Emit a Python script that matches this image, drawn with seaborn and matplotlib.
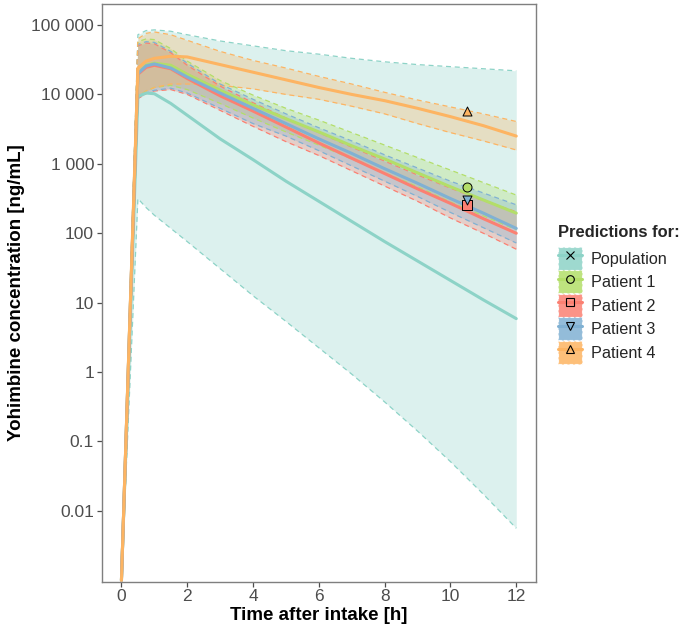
import numpy as np
import pandas as pd
import matplotlib
matplotlib.use("Agg")
import matplotlib.pyplot as plt
import seaborn as sns
from matplotlib.patches import Patch
from matplotlib.lines import Line2D
from matplotlib.ticker import FixedLocator, FixedFormatter, NullLocator

# ---------------- data (log10 of concentration in ng/mL) ----------------
time_h = [0, 0.5, 0.75, 1, 1.5, 2, 3, 4, 5, 6, 7, 8, 9, 10, 11, 12]

pop_med = [-3.0, 3.97, 4.02, 4.01, 3.87, 3.70, 3.36, 3.06, 2.75, 2.46, 2.17, 1.88, 1.60, 1.32, 1.04, 0.77]
pop_hi = [-3.0, 4.86, 4.92, 4.93, 4.91, 4.86, 4.77, 4.70, 4.63, 4.58, 4.52, 4.47, 4.43, 4.40, 4.37, 4.34]
pop_lo = [-3.0, 2.50, 2.37, 2.26, 2.07, 1.88, 1.49, 1.10, 0.73, 0.35, -0.03, -0.43, -0.85, -1.29, -1.76, -2.25]

p1_med = [-3.0, 4.30, 4.42, 4.45, 4.42, 4.29, 4.06, 3.85, 3.65, 3.46, 3.26, 3.07, 2.87, 2.67, 2.48, 2.29]
p1_hi = [-3.0, 4.76, 4.80, 4.79, 4.66, 4.48, 4.20, 3.99, 3.80, 3.63, 3.45, 3.27, 3.09, 2.91, 2.73, 2.55]
p1_lo = [-3.0, 3.97, 4.05, 4.10, 4.13, 4.07, 3.87, 3.66, 3.46, 3.27, 3.07, 2.87, 2.67, 2.45, 2.25, 2.05]

p2_med = [-3.0, 4.29, 4.39, 4.42, 4.37, 4.23, 3.98, 3.76, 3.53, 3.30, 3.08, 2.86, 2.64, 2.43, 2.21, 2.00]
p2_hi = [-3.0, 4.70, 4.74, 4.73, 4.60, 4.42, 4.12, 3.88, 3.66, 3.45, 3.24, 3.04, 2.84, 2.65, 2.47, 2.31]
p2_lo = [-3.0, 3.94, 4.01, 4.05, 4.07, 4.00, 3.77, 3.54, 3.32, 3.12, 2.90, 2.68, 2.46, 2.22, 2.00, 1.77]

p3_med = [-3.0, 4.30, 4.41, 4.44, 4.38, 4.25, 4.02, 3.80, 3.58, 3.36, 3.15, 2.93, 2.72, 2.50, 2.29, 2.07]
p3_hi = [-3.0, 4.72, 4.76, 4.75, 4.62, 4.45, 4.15, 3.93, 3.72, 3.52, 3.33, 3.13, 2.94, 2.75, 2.58, 2.41]
p3_lo = [-3.0, 3.95, 4.02, 4.06, 4.09, 4.02, 3.80, 3.58, 3.40, 3.19, 2.97, 2.75, 2.53, 2.30, 2.08, 1.86]

p4_med = [-3.0, 4.38, 4.48, 4.52, 4.55, 4.54, 4.43, 4.32, 4.21, 4.10, 4.00, 3.91, 3.80, 3.68, 3.55, 3.40]
p4_hi = [-3.0, 4.80, 4.88, 4.90, 4.86, 4.78, 4.62, 4.49, 4.38, 4.26, 4.15, 4.03, 3.92, 3.82, 3.72, 3.61]
p4_lo = [-3.0, 3.96, 4.05, 4.10, 4.15, 4.15, 4.13, 4.08, 4.00, 3.93, 3.83, 3.72, 3.58, 3.45, 3.33, 3.20]

groups = ["Population", "Patient 1", "Patient 2", "Patient 3", "Patient 4"]
colors = ["#8DD3C7", "#B3DE69", "#FB8072", "#80B1D3", "#FDB462"]
markers = ["x", "o", "s", "v", "^"]

obs_group = ["Patient 1", "Patient 2", "Patient 3", "Patient 4"]
obs_time = [10.5, 10.5, 10.5, 10.5]
obs_conc = [458, 255, 300, 5770]

y_ticks = [1e5, 1e4, 1e3, 1e2, 1e1, 1, 0.1, 0.01]
y_ticklabels = ["100 000", "10 000", "1 000", "100", "10", "1", "0.1", "0.01"]
x_ticks = [0, 2, 4, 6, 8, 10, 12]

# ---------------- build long table ----------------
series = {
    "Population": (pop_med, pop_lo, pop_hi),
    "Patient 1": (p1_med, p1_lo, p1_hi),
    "Patient 2": (p2_med, p2_lo, p2_hi),
    "Patient 3": (p3_med, p3_lo, p3_hi),
    "Patient 4": (p4_med, p4_lo, p4_hi),
}
rows = []
for g, (m, lo, hi) in series.items():
    for t, a, b, c in zip(time_h, m, lo, hi):
        rows.append({"time": t, "group": g, "median": 10 ** a, "lower": 10 ** b, "upper": 10 ** c})
df = pd.DataFrame(rows)
obs = pd.DataFrame({"time": obs_time, "group": obs_group, "conc": obs_conc})

# ---------------- style ----------------
sns.set_style("ticks")
plt.rcParams["font.family"] = ["Liberation Sans", "DejaVu Sans"]

fig = plt.figure(figsize=(6.85, 6.34), dpi=100)
ax = fig.add_axes([101.7 / 685, 1 - 581.7 / 634, (536 - 101.7) / 685, (581.7 - 3.5) / 634])

palette = dict(zip(groups, colors))

for g in groups:
    d = df[df["group"] == g]
    ax.fill_between(d["time"], d["lower"], d["upper"], color=palette[g], alpha=0.3, linewidth=0, zorder=1)

for col in ["lower", "upper"]:
    for g in groups:
        d = df[df["group"] == g]
        sns.lineplot(data=d, x="time", y=col, color=palette[g], linewidth=0.9,
                     linestyle=(0, (4, 3)), ax=ax, legend=False, zorder=2)

for g in groups:
    d = df[df["group"] == g]
    sns.lineplot(data=d, x="time", y="median", color=palette[g], linewidth=2.2,
                 ax=ax, legend=False, zorder=3)

for g, m in zip(groups[1:], markers[1:]):
    d = obs[obs["group"] == g]
    sns.scatterplot(data=d, x="time", y="conc", color=palette[g], marker=m, s=42,
                    edgecolor="black", linewidth=0.7, ax=ax, legend=False, zorder=5)

ax.set_yscale("log")
ax.set_xlim(-0.6, 12.6)
ax.set_ylim(10 ** -3.02, 10 ** 5.31)
ax.yaxis.set_major_locator(FixedLocator(y_ticks))
ax.yaxis.set_major_formatter(FixedFormatter(y_ticklabels))
ax.yaxis.set_minor_locator(NullLocator())
ax.set_xticks(x_ticks)
ax.set_xticklabels([str(t) for t in x_ticks])

for s in ax.spines.values():
    s.set_visible(True)
    s.set_color("#7F7F7F")
    s.set_linewidth(1.0)
ax.tick_params(axis="both", which="major", length=3.5, width=0.9, color="#4D4D4D",
               labelcolor="#4D4D4D", labelsize=12.5, pad=2)

ax.set_xlabel("Time after intake [h]", fontsize=13.5, fontweight="bold", color="black", labelpad=2)
ax.set_ylabel("Yohimbine concentration [ng/mL]", fontsize=13.5, fontweight="bold", color="black", labelpad=4.5)

# ---------------- legend ----------------
handles = []
for g, c, m in zip(groups, colors, markers):
    patch = Patch(facecolor=c, edgecolor="white", linestyle=(0, (3, 2)), linewidth=0.8, alpha=0.85)
    line = Line2D([], [], color=c, linewidth=2.2)
    mk = Line2D([], [], color="black", marker=m, markersize=5.5, markerfacecolor="none",
                markeredgewidth=0.8, linestyle="none")
    handles.append((patch, line, mk))

leg = fig.legend(handles, groups, title="Predictions for:", loc="upper left",
                 bbox_to_anchor=(558 / 685, 1 - 225 / 634), frameon=False,
                 fontsize=11.7, title_fontproperties={"weight": "bold", "size": 11.9},
                 handlelength=1.46, handleheight=1.8, labelspacing=0.03,
                 handletextpad=0.55, borderpad=0, borderaxespad=0)
leg._legend_box.align = "left"
leg._legend_box.sep = 5

fig.savefig("out.png", dpi=100)
